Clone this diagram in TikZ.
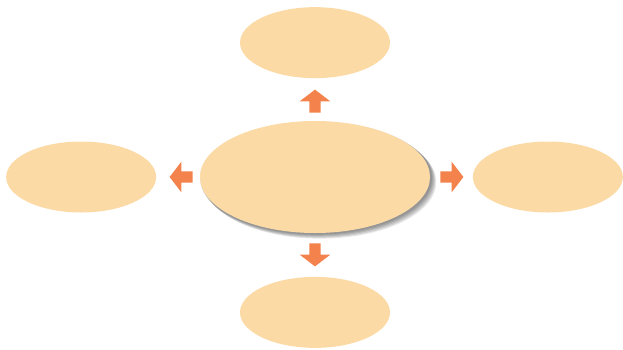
\documentclass[tikz,border=0pt]{standalone}
\usepackage{tikz}
\usetikzlibrary{positioning,shapes,shadows}

\definecolor{peach}{HTML}{FCDAA6}
\definecolor{bluntorange}{HTML}{F3824C}

\tikzset{
	bubble/.style={shape=ellipse,fill=peach,minimum width=150pt,minimum height=71pt,inner sep=0pt},
	pointer/.style={single arrow,fill=bluntorange,minimum height=23pt,inner sep=5.5pt,single arrow head extend=9.5pt,single arrow tip angle=105,shape border rotate=#1},
	softshadow/.style={general shadow={shadow xshift=#1,shadow yshift=-#1,shadow scale=1.01,fill=black,opacity=0.1}}
}

\begin{document}
\begin{tikzpicture}[x=1pt,y=-1pt]
		\useasboundingbox (0,0) rectangle (623,349);
		\node(hub) at (315,177) [bubble,minimum width=230pt,minimum height=112pt,
			softshadow=1pt,softshadow=2pt,softshadow=3pt,softshadow=4pt,softshadow=5pt] {};
		\node(up) [above=8pt of hub,pointer=90] {};
		\node(north) [above=11pt of up,bubble] {};
		\node(down) [below=10pt of hub,pointer=270] {};
		\node(south) [below=10pt of down,bubble] {};
		\node(left) [left=7pt of hub,pointer=180] {};
		\node(west) [left=13pt of left,bubble] {};
		\node(right) [right=10pt of hub,pointer=0] {};
		\node(east) [right=9pt of right,bubble] {};
	\end{tikzpicture}
\end{document}
